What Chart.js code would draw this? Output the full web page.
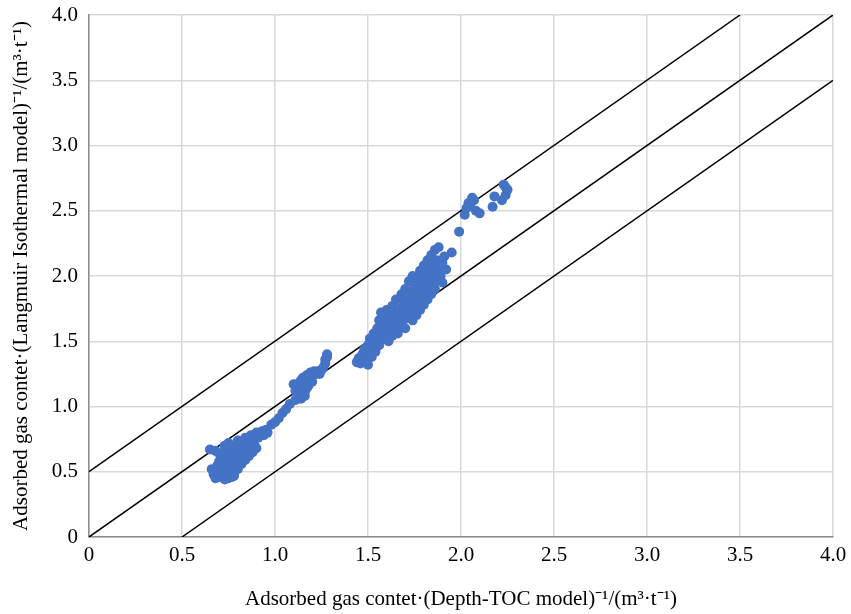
<!DOCTYPE html>
<html>
<head>
<meta charset="utf-8">
<script src="https://cdn.jsdelivr.net/npm/chart.js@4"></script>
<style>
    html, body { margin: 0; padding: 0; background: #ffffff; }
    #wrap { width: 851px; height: 614px; }
</style>
</head>
<body>
<div id="wrap"><canvas id="scatterChart" width="851" height="614"></canvas></div>
<script>
// Ejes: valores de las marcas
const tickValues = [0, 0.5, 1.0, 1.5, 2.0, 2.5, 3.0, 3.5, 4.0];
const axisRange = [0, 4];
// Rectas de referencia y = x + desplazamiento
const refOffsets = [0.5, 0, -0.5];

// Puntos: [Depth-TOC, Langmuir]
const lowCluster = [
    [0.65, 0.67], [0.68, 0.66], [0.66, 0.52], [0.67, 0.48], [0.68, 0.45], [0.69, 0.55], [0.70, 0.50],
    [0.70, 0.58], [0.71, 0.47], [0.72, 0.53], [0.72, 0.62], [0.73, 0.70], [0.74, 0.56], [0.74, 0.49],
    [0.75, 0.64], [0.75, 0.72], [0.76, 0.60], [0.76, 0.52], [0.77, 0.46], [0.77, 0.67], [0.78, 0.55],
    [0.78, 0.63], [0.79, 0.70], [0.79, 0.58], [0.80, 0.74], [0.80, 0.52], [0.81, 0.65], [0.81, 0.60],
    [0.82, 0.68], [0.82, 0.56], [0.83, 0.72], [0.83, 0.63], [0.84, 0.59], [0.84, 0.76], [0.85, 0.66],
    [0.85, 0.70], [0.86, 0.62], [0.86, 0.74], [0.87, 0.68], [0.87, 0.78], [0.88, 0.65], [0.88, 0.72],
    [0.89, 0.75], [0.89, 0.70], [0.90, 0.80], [0.90, 0.68], [0.91, 0.76], [0.92, 0.79], [0.93, 0.81],
    [0.94, 0.78], [0.95, 0.82], [0.96, 0.80], [0.73, 0.44], [0.75, 0.45], [0.78, 0.47], [0.70, 0.64],
    [0.76, 0.70], [0.73, 0.66], [0.80, 0.60], [0.82, 0.73], [0.84, 0.70], [0.86, 0.66], [0.70, 0.46],
    [0.72, 0.58], [0.74, 0.68]
];

const midCluster = [
    [0.98, 0.86], [1.00, 0.88], [1.02, 0.91], [1.04, 0.95], [1.06, 0.98], [1.08, 1.02],
    [1.10, 1.17], [1.11, 1.12], [1.12, 1.08], [1.12, 1.15], [1.13, 1.18], [1.13, 1.10], [1.14, 1.13],
    [1.14, 1.20], [1.15, 1.16], [1.15, 1.22], [1.16, 1.11], [1.16, 1.18], [1.17, 1.24], [1.17, 1.14],
    [1.18, 1.20], [1.18, 1.16], [1.19, 1.22], [1.19, 1.26], [1.20, 1.19], [1.20, 1.24], [1.21, 1.27],
    [1.22, 1.25], [1.23, 1.27], [1.24, 1.25], [1.25, 1.28], [1.26, 1.30], [1.27, 1.33], [1.28, 1.38],
    [1.28, 1.40], [1.27, 1.36], [1.11, 1.05], [1.14, 1.06], [1.16, 1.08]
];

const highCluster = [
    [1.44, 1.34], [1.45, 1.37], [1.46, 1.33], [1.47, 1.40], [1.48, 1.35], [1.48, 1.44], [1.49, 1.38],
    [1.50, 1.32], [1.50, 1.47], [1.51, 1.42], [1.51, 1.52], [1.52, 1.38], [1.52, 1.49], [1.53, 1.45],
    [1.53, 1.56], [1.54, 1.50], [1.54, 1.42], [1.55, 1.60], [1.55, 1.53], [1.56, 1.47], [1.56, 1.66],
    [1.57, 1.57], [1.57, 1.72], [1.58, 1.52], [1.58, 1.62], [1.59, 1.68], [1.60, 1.57], [1.60, 1.74],
    [1.61, 1.63], [1.61, 1.50], [1.62, 1.70], [1.62, 1.58], [1.63, 1.77], [1.63, 1.54], [1.64, 1.65],
    [1.64, 1.72], [1.65, 1.60], [1.65, 1.82], [1.66, 1.68], [1.66, 1.56], [1.67, 1.75], [1.67, 1.64],
    [1.68, 1.86], [1.68, 1.71], [1.69, 1.66], [1.69, 1.80], [1.70, 1.60], [1.70, 1.74], [1.70, 1.90],
    [1.71, 1.84], [1.71, 1.68], [1.72, 1.78], [1.72, 1.96], [1.73, 1.72], [1.73, 1.88], [1.74, 1.66],
    [1.74, 1.82], [1.74, 2.00], [1.75, 1.76], [1.75, 1.93], [1.76, 1.70], [1.76, 1.86], [1.77, 1.80],
    [1.77, 1.98], [1.78, 1.74], [1.78, 1.90], [1.78, 2.04], [1.79, 1.84], [1.79, 1.96], [1.80, 1.78],
    [1.80, 1.92], [1.80, 2.08], [1.81, 1.87], [1.81, 2.01], [1.82, 1.82], [1.82, 1.96], [1.82, 2.12],
    [1.83, 1.90], [1.83, 2.05], [1.84, 1.86], [1.84, 1.99], [1.84, 2.16], [1.85, 1.93], [1.85, 2.09],
    [1.86, 1.90], [1.86, 2.02], [1.86, 2.20], [1.87, 1.97], [1.87, 2.12], [1.88, 2.06], [1.88, 2.22],
    [1.89, 2.00], [1.90, 2.10], [1.90, 1.95], [1.91, 2.15], [1.92, 2.05], [1.95, 2.18], [1.99, 2.34]
];

const topCluster = [
    [2.02, 2.47], [2.03, 2.52], [2.04, 2.56], [2.05, 2.54], [2.06, 2.60], [2.07, 2.58], [2.08, 2.50],
    [2.10, 2.48], [2.17, 2.53], [2.18, 2.61], [2.22, 2.58], [2.23, 2.70], [2.24, 2.62], [2.25, 2.66],
    [2.24, 2.68]
];

const pointColor = '#4472C4';
const fontFamily = '"Liberation Serif", "Times New Roman", serif';

function toXY(pairs) {
    return pairs.map(p => ({ x: p[0], y: p[1] }));
}

function refLine(offset) {
    const x0 = Math.max(axisRange[0], axisRange[0] - offset);
    const x1 = Math.min(axisRange[1], axisRange[1] - offset);
    return [{ x: x0, y: x0 + offset }, { x: x1, y: x1 + offset }];
}

function initChart() {
    const ctx = document.getElementById('scatterChart');
    const allPoints = toXY([].concat(lowCluster, midCluster, highCluster, topCluster));

    const lineSets = refOffsets.map(o => ({
        type: 'line',
        data: refLine(o),
        borderColor: '#000000',
        borderWidth: 1.5,
        pointRadius: 0,
        fill: false,
        tension: 0
    }));

    new Chart(ctx, {
        type: 'scatter',
        data: {
            datasets: [{
                data: allPoints,
                backgroundColor: pointColor,
                borderColor: pointColor,
                borderWidth: 0,
                pointRadius: 5
            }].concat(lineSets)
        },
        options: {
            responsive: false,
            animation: false,
            layout: { padding: { top: 15, right: 18, left: 0, bottom: 0 } },
            plugins: { legend: { display: false }, tooltip: { enabled: false } },
            scales: {
                x: {
                    type: 'linear',
                    min: axisRange[0],
                    max: axisRange[1],
                    afterBuildTicks: s => { s.ticks = tickValues.map(v => ({ value: v })); },
                    afterFit: s => { s.height = 77; s.paddingLeft = 0; s.paddingRight = 0; },
                    grid: { color: '#d9d9d9', lineWidth: 1.5, drawTicks: false },
                    border: { color: '#8c8c8c', width: 1.5 },
                    ticks: {
                        padding: 6,
                        color: '#000000',
                        font: { family: fontFamily, size: 21 },
                        callback: v => v === 0 ? '0' : v.toFixed(1)
                    },
                    title: {
                        display: true,
                        text: 'Adsorbed gas contet·(Depth-TOC model)⁻¹/(m³·t⁻¹)',
                        color: '#000000',
                        font: { family: fontFamily, size: 21 },
                        padding: { top: 8, bottom: 2 }
                    }
                },
                y: {
                    type: 'linear',
                    min: axisRange[0],
                    max: axisRange[1],
                    afterBuildTicks: s => { s.ticks = tickValues.map(v => ({ value: v })); },
                    afterFit: s => { s.width = 89; s.paddingTop = 0; s.paddingBottom = 0; },
                    grid: { color: '#d9d9d9', lineWidth: 1.5, drawTicks: false },
                    border: { color: '#8c8c8c', width: 1.5 },
                    ticks: {
                        padding: 11,
                        color: '#000000',
                        font: { family: fontFamily, size: 21 },
                        callback: v => v === 0 ? '0' : v.toFixed(1)
                    },
                    title: {
                        display: true,
                        text: 'Adsorbed gas contet·(Langmuir Isothermal model)⁻¹/(m³·t⁻¹)',
                        color: '#000000',
                        font: { family: fontFamily, size: 21 },
                        padding: { top: 9, bottom: 0 }
                    }
                }
            }
        }
    });
}

document.addEventListener('DOMContentLoaded', initChart);
</script>
</body>
</html>
